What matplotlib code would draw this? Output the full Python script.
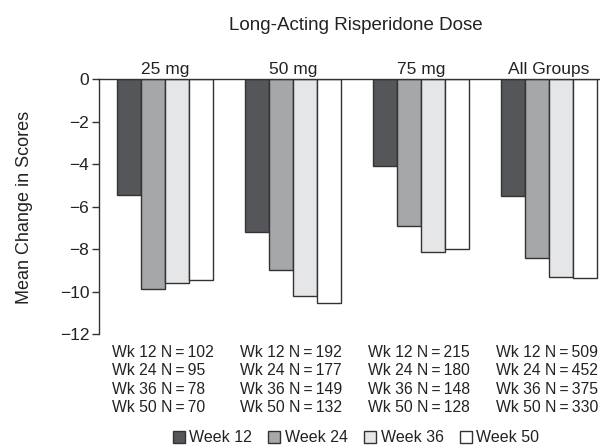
import numpy as np
import matplotlib
matplotlib.use("Agg")
import matplotlib.pyplot as plt
from matplotlib.patches import Patch
from matplotlib.transforms import blended_transform_factory

plt.rcParams['font.family'] = ['Liberation Sans', 'DejaVu Sans']

groups = ['25 mg', '50 mg', '75 mg', 'All Groups']
weeks = ['Week 12', 'Week 24', 'Week 36', 'Week 50']
week12 = [-5.45, -7.17, -4.09, -5.52]
week24 = [-9.88, -9.0, -6.92, -8.41]
week36 = [-9.57, -10.2, -8.14, -9.29]
week50 = [-9.47, -10.51, -7.97, -9.35]
n_counts = [[102, 95, 78, 70],
            [192, 177, 149, 132],
            [215, 180, 148, 128],
            [509, 452, 375, 330]]
wk_nums = [12, 24, 36, 50]
colors = ['#55565a', '#a6a7a9', '#e5e6e7', '#ffffff']
txt = '#222222'

fig = plt.figure(figsize=(6, 4.46), dpi=100)
ax = fig.add_axes([0.165, 0.2504, 0.835, 0.5725])

x = np.arange(len(groups))
w = 0.1875
series = [week12, week24, week36, week50]
for k, vals in enumerate(series):
    ax.bar(x + (k - 1.5) * w, vals, w, color=colors[k], edgecolor='#333333',
           linewidth=1.0, label=weeks[k])

ax.set_ylim(-12, 0)
ax.set_xlim(-0.5156, 3.398)
ax.set_yticks(np.arange(-12, 1, 2))
ax.set_yticklabels(['\u2212%d' % abs(v) if v else '0' for v in range(-12, 1, 2)])
ax.tick_params(axis='y', direction='out', length=5, width=1, colors='#333333',
               labelcolor=txt, labelsize=12.5, pad=2)
ax.set_xticks([])
for s in ['right', 'bottom']:
    ax.spines[s].set_visible(False)
for s in ['left', 'top']:
    ax.spines[s].set_color('#333333')
    ax.spines[s].set_linewidth(1)

fig.text(25 / 600, 1 - 207.5 / 446, 'Mean Change in Scores', rotation=90,
         ha='center', va='center', fontsize=13, color=txt)

tr = blended_transform_factory(ax.transData, fig.transFigure)
for i, g in enumerate(groups):
    ax.text(i, 1 - 74 / 446, g, transform=tr, ha='center', va='baseline',
            fontsize=12.5, color=txt)
    for j, n in enumerate(n_counts[i]):
        ax.text(i - 0.375 - 0.04, 1 - (356.7 + j * 18.6) / 446,
                'Wk %d N\u2009=\u2009%d' % (wk_nums[j], n), transform=tr,
                ha='left', va='baseline', fontsize=11.3, color=txt)

fig.text(356 / 600, 1 - 30 / 446, 'Long-Acting Risperidone Dose', ha='center',
         va='baseline', fontsize=13.5, color=txt)

handles = [Patch(facecolor=colors[k], edgecolor='#333333', label=weeks[k])
           for k in range(4)]
fig.legend(handles=handles, ncol=4, loc='center', bbox_to_anchor=(356 / 600, 1 - 438 / 446),
           frameon=False, fontsize=11.5, handlelength=0.75, handleheight=0.75,
           handletextpad=0.3, columnspacing=1.0, borderaxespad=0, borderpad=0,
           labelcolor=txt)

fig.savefig('out.png', dpi=100)
